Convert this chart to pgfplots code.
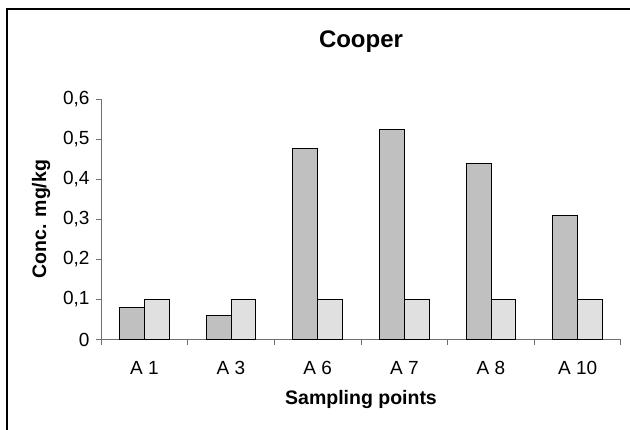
\documentclass[border=0pt]{standalone}
\usepackage{pgfplots}
\pgfplotsset{compat=1.18}
\usepackage{fontspec}
\setmainfont{Liberation Sans}
\definecolor{barDark}{HTML}{C0C0C0}
\definecolor{barLight}{HTML}{E0E0E0}
\definecolor{axisGray}{HTML}{707070}
\begin{document}
\begin{tikzpicture}
\useasboundingbox (0bp,0bp) rectangle (630bp,430bp);
\draw[line width=1.5bp] (7bp,0bp) -- (7bp,421bp) -- (630bp,421bp);
\begin{axis}[
    at={(101bp,90.5bp)}, anchor=south west,
    scale only axis,
    width=520bp, height=240.5bp,
    xmin=-0.5, xmax=5.5,
    ymin=0, ymax=0.6,
    ybar=0pt, bar width=0.288,
    axis lines*=left,
    axis line style={axisGray, line width=1bp},
    tick style={axisGray, line width=1bp},
    tick align=outside,
    major tick length=5bp,
    xtick={-0.5,0.5,1.5,2.5,3.5,4.5,5.5},
    xticklabels={,,,,,,,},
    extra x ticks={0,1,2,3,4,5},
    extra x tick labels={A 1,A 3,A 6,A 7,A 8,A 10},
    extra x tick style={major tick length=0pt},
    ytick={0,0.1,0.2,0.3,0.4,0.5,0.6},
    /pgf/number format/.cd, use comma, fixed, precision=1, assume math mode=true,
    /pgfplots/.cd,
    tick label style={font=\fontsize{19bp}{22bp}\selectfont},
    xticklabel style={yshift=-18bp},
    yticklabel style={xshift=-3bp},
    title={Cooper},
    title style={font=\bfseries\fontsize{24bp}{27bp}\selectfont, at={(axis description cs:0.5,1.215)}, anchor=center},
    xlabel={Sampling points},
    xlabel style={font=\bfseries\fontsize{19.5bp}{22bp}\selectfont, at={(axis description cs:0.5,-0.25)}, anchor=center},
    ylabel={Conc. mg/kg},
    ylabel style={font=\bfseries\fontsize{19.5bp}{22bp}\selectfont, at={(axis description cs:-0.115,0.5)}, anchor=center},
]
\addplot[fill=barDark, draw=black, line width=1bp]
    coordinates {(0,0.08)(1,0.06)(2,0.476)(3,0.524)(4,0.44)(5,0.309)};
\addplot[fill=barLight, draw=black, line width=1bp]
    coordinates {(0,0.1)(1,0.1)(2,0.1)(3,0.1)(4,0.1)(5,0.1)};
\end{axis}
\end{tikzpicture}
\end{document}
